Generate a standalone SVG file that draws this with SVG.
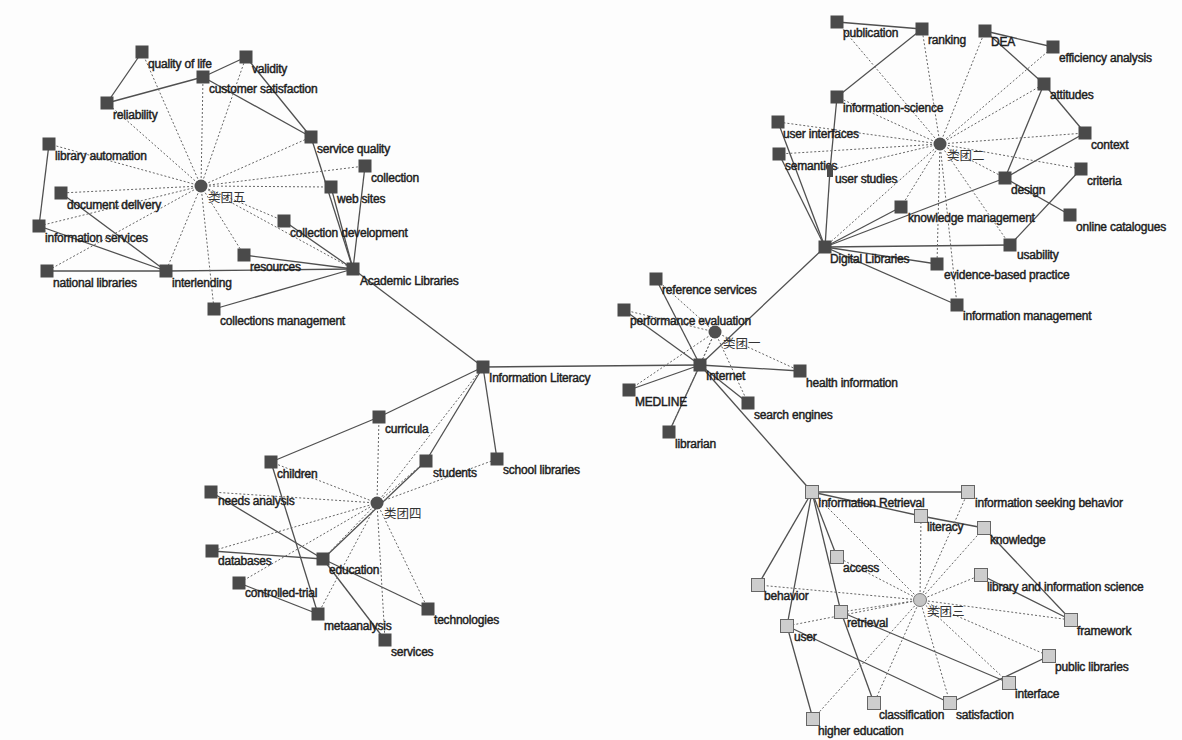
<svg xmlns="http://www.w3.org/2000/svg" width="1182" height="740" viewBox="0 0 1182 740">
<defs>
<style>
.s{stroke:#505050;stroke-width:1.3;fill:none}
.d{stroke:#666;stroke-width:1;stroke-dasharray:2 2;fill:none}
.n{fill:#4a4a4a}
.nl{fill:#cdcdcd;stroke:#666;stroke-width:1}
.ce{fill:#505050}
.cel{fill:#c4c4c4;stroke:#777;stroke-width:1}
.t{font-family:"Liberation Sans",Arial,sans-serif;font-size:12px;fill:#1e1e1e;stroke:#1e1e1e;stroke-width:0.45;letter-spacing:-0.2px}
.c{font-family:"Noto Sans CJK SC","Noto Sans CJK JP",sans-serif;font-size:12.5px;fill:#333}
</style>
</defs>
<rect width="1182" height="740" fill="#fdfdfd"/>
<g id="connectors">
<line class="s" x1="142" y1="52" x2="107" y2="103"/>
<line class="s" x1="107" y1="103" x2="203" y2="77"/>
<line class="s" x1="203" y1="77" x2="246" y2="57"/>
<line class="s" x1="203" y1="77" x2="311" y2="137"/>
<line class="s" x1="246" y1="57" x2="311" y2="137"/>
<line class="s" x1="311" y1="137" x2="353" y2="269"/>
<line class="s" x1="331" y1="187" x2="353" y2="269"/>
<line class="s" x1="365" y1="166" x2="353" y2="269"/>
<line class="s" x1="284" y1="221" x2="353" y2="269"/>
<line class="s" x1="49" y1="144" x2="39" y2="226"/>
<line class="s" x1="39" y1="226" x2="166" y2="271"/>
<line class="s" x1="61" y1="193" x2="166" y2="271"/>
<line class="s" x1="47" y1="271" x2="166" y2="271"/>
<line class="s" x1="166" y1="271" x2="353" y2="269"/>
<line class="s" x1="244" y1="255" x2="353" y2="269"/>
<line class="s" x1="214" y1="309" x2="353" y2="269"/>
<line class="s" x1="353" y1="269" x2="483" y2="367"/>
<line class="d" x1="201" y1="186" x2="142" y2="52"/>
<line class="d" x1="201" y1="186" x2="246" y2="57"/>
<line class="d" x1="201" y1="186" x2="203" y2="77"/>
<line class="d" x1="201" y1="186" x2="107" y2="103"/>
<line class="d" x1="201" y1="186" x2="49" y2="144"/>
<line class="d" x1="201" y1="186" x2="61" y2="193"/>
<line class="d" x1="201" y1="186" x2="39" y2="226"/>
<line class="d" x1="201" y1="186" x2="311" y2="137"/>
<line class="d" x1="201" y1="186" x2="365" y2="166"/>
<line class="d" x1="201" y1="186" x2="331" y2="187"/>
<line class="d" x1="201" y1="186" x2="284" y2="221"/>
<line class="d" x1="201" y1="186" x2="47" y2="271"/>
<line class="d" x1="201" y1="186" x2="166" y2="271"/>
<line class="d" x1="201" y1="186" x2="244" y2="255"/>
<line class="d" x1="201" y1="186" x2="214" y2="309"/>
<line class="d" x1="201" y1="186" x2="353" y2="269"/>
<line class="s" x1="837" y1="22" x2="922" y2="29"/>
<line class="s" x1="837" y1="97" x2="922" y2="29"/>
<line class="s" x1="985" y1="31" x2="1053" y2="47"/>
<line class="s" x1="985" y1="31" x2="1044" y2="84"/>
<line class="s" x1="1044" y1="84" x2="1085" y2="133"/>
<line class="s" x1="1044" y1="84" x2="1005" y2="178"/>
<line class="s" x1="1085" y1="133" x2="1005" y2="178"/>
<line class="s" x1="1005" y1="178" x2="825" y2="247"/>
<line class="s" x1="1005" y1="178" x2="1070" y2="215"/>
<line class="s" x1="1081" y1="169" x2="1010" y2="245"/>
<line class="s" x1="901" y1="207" x2="825" y2="247"/>
<line class="s" x1="1010" y1="245" x2="825" y2="247"/>
<line class="s" x1="937" y1="264" x2="825" y2="247"/>
<line class="s" x1="957" y1="305" x2="825" y2="247"/>
<line class="s" x1="778" y1="122" x2="825" y2="247"/>
<line class="s" x1="779" y1="154" x2="825" y2="247"/>
<line class="s" x1="830" y1="170" x2="825" y2="247"/>
<line class="s" x1="837" y1="97" x2="830" y2="170"/>
<line class="s" x1="825" y1="247" x2="700" y2="365"/>
<line class="d" x1="940" y1="144" x2="837" y2="22"/>
<line class="d" x1="940" y1="144" x2="922" y2="29"/>
<line class="d" x1="940" y1="144" x2="985" y2="31"/>
<line class="d" x1="940" y1="144" x2="1053" y2="47"/>
<line class="d" x1="940" y1="144" x2="1044" y2="84"/>
<line class="d" x1="940" y1="144" x2="1085" y2="133"/>
<line class="d" x1="940" y1="144" x2="1081" y2="169"/>
<line class="d" x1="940" y1="144" x2="1005" y2="178"/>
<line class="d" x1="940" y1="144" x2="901" y2="207"/>
<line class="d" x1="940" y1="144" x2="1010" y2="245"/>
<line class="d" x1="940" y1="144" x2="937" y2="264"/>
<line class="d" x1="940" y1="144" x2="957" y2="305"/>
<line class="d" x1="940" y1="144" x2="837" y2="97"/>
<line class="d" x1="940" y1="144" x2="778" y2="122"/>
<line class="d" x1="940" y1="144" x2="779" y2="154"/>
<line class="d" x1="940" y1="144" x2="830" y2="170"/>
<line class="d" x1="940" y1="144" x2="825" y2="247"/>
<line class="s" x1="700" y1="365" x2="483" y2="367"/>
<line class="s" x1="700" y1="365" x2="656" y2="279"/>
<line class="s" x1="700" y1="365" x2="624" y2="310"/>
<line class="s" x1="700" y1="365" x2="629" y2="390"/>
<line class="s" x1="700" y1="365" x2="669" y2="432"/>
<line class="s" x1="700" y1="365" x2="748" y2="403"/>
<line class="s" x1="700" y1="365" x2="800" y2="371"/>
<line class="s" x1="700" y1="365" x2="812" y2="492"/>
<line class="d" x1="715" y1="332" x2="656" y2="279"/>
<line class="d" x1="715" y1="332" x2="624" y2="310"/>
<line class="d" x1="715" y1="332" x2="700" y2="365"/>
<line class="d" x1="715" y1="332" x2="800" y2="371"/>
<line class="d" x1="715" y1="332" x2="748" y2="403"/>
<line class="d" x1="715" y1="332" x2="629" y2="390"/>
<line class="d" x1="715" y1="332" x2="669" y2="432"/>
<line class="s" x1="483" y1="367" x2="379" y2="417"/>
<line class="s" x1="379" y1="417" x2="271" y2="462"/>
<line class="s" x1="483" y1="367" x2="426" y2="461"/>
<line class="s" x1="483" y1="367" x2="497" y2="459"/>
<line class="s" x1="426" y1="461" x2="323" y2="559"/>
<line class="s" x1="211" y1="492" x2="323" y2="559"/>
<line class="s" x1="212" y1="551" x2="323" y2="559"/>
<line class="s" x1="271" y1="462" x2="318" y2="614"/>
<line class="s" x1="239" y1="583" x2="318" y2="614"/>
<line class="s" x1="323" y1="559" x2="428" y2="609"/>
<line class="s" x1="323" y1="559" x2="385" y2="640"/>
<line class="d" x1="377" y1="503" x2="379" y2="417"/>
<line class="d" x1="377" y1="503" x2="426" y2="461"/>
<line class="d" x1="377" y1="503" x2="497" y2="459"/>
<line class="d" x1="377" y1="503" x2="271" y2="462"/>
<line class="d" x1="377" y1="503" x2="211" y2="492"/>
<line class="d" x1="377" y1="503" x2="212" y2="551"/>
<line class="d" x1="377" y1="503" x2="239" y2="583"/>
<line class="d" x1="377" y1="503" x2="323" y2="559"/>
<line class="d" x1="377" y1="503" x2="318" y2="614"/>
<line class="d" x1="377" y1="503" x2="385" y2="640"/>
<line class="d" x1="377" y1="503" x2="428" y2="609"/>
<line class="d" x1="377" y1="503" x2="483" y2="367"/>
<line class="s" x1="812" y1="492" x2="968" y2="492"/>
<line class="s" x1="812" y1="492" x2="921" y2="516"/>
<line class="s" x1="921" y1="516" x2="984" y2="528"/>
<line class="s" x1="984" y1="528" x2="1071" y2="620"/>
<line class="s" x1="981" y1="575" x2="1071" y2="620"/>
<line class="s" x1="812" y1="492" x2="758" y2="585"/>
<line class="s" x1="812" y1="492" x2="787" y2="626"/>
<line class="s" x1="812" y1="492" x2="837" y2="557"/>
<line class="s" x1="812" y1="492" x2="841" y2="612"/>
<line class="s" x1="841" y1="612" x2="874" y2="703"/>
<line class="s" x1="787" y1="626" x2="813" y2="719"/>
<line class="s" x1="787" y1="626" x2="950" y2="703"/>
<line class="s" x1="841" y1="612" x2="1009" y2="683"/>
<line class="s" x1="950" y1="703" x2="1049" y2="656"/>
<line class="d" x1="920" y1="600" x2="812" y2="492"/>
<line class="d" x1="920" y1="600" x2="968" y2="492"/>
<line class="d" x1="920" y1="600" x2="921" y2="516"/>
<line class="d" x1="920" y1="600" x2="984" y2="528"/>
<line class="d" x1="920" y1="600" x2="981" y2="575"/>
<line class="d" x1="920" y1="600" x2="1071" y2="620"/>
<line class="d" x1="920" y1="600" x2="1049" y2="656"/>
<line class="d" x1="920" y1="600" x2="1009" y2="683"/>
<line class="d" x1="920" y1="600" x2="950" y2="703"/>
<line class="d" x1="920" y1="600" x2="874" y2="703"/>
<line class="d" x1="920" y1="600" x2="813" y2="719"/>
<line class="d" x1="920" y1="600" x2="837" y2="557"/>
<line class="d" x1="920" y1="600" x2="758" y2="585"/>
<line class="d" x1="920" y1="600" x2="841" y2="612"/>
<line class="d" x1="920" y1="600" x2="787" y2="626"/>
</g>
<g id="cluster5"><circle class="ce" cx="201" cy="186" r="6.5"/><text class="c" x="208" y="202">类团五</text></g>
<g id="quality-of-life"><rect class="n" x="135.5" y="45.5" width="13" height="13"/><text class="t" x="148" y="68">quality of life</text></g>
<g id="validity"><rect class="n" x="239.5" y="50.5" width="13" height="13"/><text class="t" x="252" y="73">validity</text></g>
<g id="customer-satisfaction"><rect class="n" x="196.5" y="70.5" width="13" height="13"/><text class="t" x="209" y="93">customer satisfaction</text></g>
<g id="reliability"><rect class="n" x="100.5" y="96.5" width="13" height="13"/><text class="t" x="113" y="119">reliability</text></g>
<g id="library-automation"><rect class="n" x="42.5" y="137.5" width="13" height="13"/><text class="t" x="55" y="160">library automation</text></g>
<g id="document-delivery"><rect class="n" x="54.5" y="186.5" width="13" height="13"/><text class="t" x="67" y="209">document delivery</text></g>
<g id="information-services"><rect class="n" x="32.5" y="219.5" width="13" height="13"/><text class="t" x="45" y="242">information services</text></g>
<g id="service-quality"><rect class="n" x="304.5" y="130.5" width="13" height="13"/><text class="t" x="317" y="153">service quality</text></g>
<g id="collection"><rect class="n" x="358.5" y="159.5" width="13" height="13"/><text class="t" x="371" y="182">collection</text></g>
<g id="web-sites"><rect class="n" x="324.5" y="180.5" width="13" height="13"/><text class="t" x="337" y="203">web sites</text></g>
<g id="collection-development"><rect class="n" x="277.5" y="214.5" width="13" height="13"/><text class="t" x="290" y="237">collection development</text></g>
<g id="national-libraries"><rect class="n" x="40.5" y="264.5" width="13" height="13"/><text class="t" x="53" y="287">national libraries</text></g>
<g id="interlending"><rect class="n" x="159.5" y="264.5" width="13" height="13"/><text class="t" x="172" y="287">interlending</text></g>
<g id="resources"><rect class="n" x="237.5" y="248.5" width="13" height="13"/><text class="t" x="250" y="271">resources</text></g>
<g id="collections-management"><rect class="n" x="207.5" y="302.5" width="13" height="13"/><text class="t" x="220" y="325">collections management</text></g>
<g id="academic-libraries"><rect class="n" x="346.5" y="262.5" width="13" height="13"/><text class="t" x="360" y="285">Academic Libraries</text></g>
<g id="cluster2"><circle class="ce" cx="940" cy="144" r="6.5"/><text class="c" x="947" y="160">类团二</text></g>
<g id="publication"><rect class="n" x="830.5" y="15.5" width="13" height="13"/><text class="t" x="843" y="37">publication</text></g>
<g id="ranking"><rect class="n" x="915.5" y="22.5" width="13" height="13"/><text class="t" x="928" y="44">ranking</text></g>
<g id="dea"><rect class="n" x="978.5" y="24.5" width="13" height="13"/><text class="t" x="991" y="46">DEA</text></g>
<g id="efficiency-analysis"><rect class="n" x="1046.5" y="40.5" width="13" height="13"/><text class="t" x="1059" y="62">efficiency analysis</text></g>
<g id="attitudes"><rect class="n" x="1037.5" y="77.5" width="13" height="13"/><text class="t" x="1050" y="99">attitudes</text></g>
<g id="context"><rect class="n" x="1078.5" y="126.5" width="13" height="13"/><text class="t" x="1091" y="149">context</text></g>
<g id="criteria"><rect class="n" x="1074.5" y="162.5" width="13" height="13"/><text class="t" x="1087" y="185">criteria</text></g>
<g id="design"><rect class="n" x="998.5" y="171.5" width="13" height="13"/><text class="t" x="1011" y="194">design</text></g>
<g id="online-catalogues"><rect class="n" x="1063.5" y="208.5" width="13" height="13"/><text class="t" x="1076" y="231">online catalogues</text></g>
<g id="knowledge-management"><rect class="n" x="894.5" y="200.5" width="13" height="13"/><text class="t" x="908" y="222">knowledge management</text></g>
<g id="usability"><rect class="n" x="1003.5" y="238.5" width="13" height="13"/><text class="t" x="1017" y="259">usability</text></g>
<g id="evidence-based-practice"><rect class="n" x="930.5" y="257.5" width="13" height="13"/><text class="t" x="944" y="279">evidence-based practice</text></g>
<g id="information-management"><rect class="n" x="950.5" y="298.5" width="13" height="13"/><text class="t" x="963" y="320">information management</text></g>
<g id="information-science"><rect class="n" x="830.5" y="90.5" width="13" height="13"/><text class="t" x="843" y="112">information-science</text></g>
<g id="user-interfaces"><rect class="n" x="771.5" y="115.5" width="13" height="13"/><text class="t" x="783" y="138">user interfaces</text></g>
<g id="semantics"><rect class="n" x="772.5" y="147.5" width="13" height="13"/><text class="t" x="785" y="170">semantics</text></g>
<g id="user-studies"><rect class="n" x="827" y="165" width="6" height="12"/><text class="t" x="835" y="183">user studies</text></g>
<g id="digital-libraries"><rect class="n" x="818.5" y="240.5" width="13" height="13"/><text class="t" x="830" y="263">Digital Libraries</text></g>
<g id="reference-services"><rect class="n" x="649.5" y="272.5" width="13" height="13"/><text class="t" x="662" y="294">reference services</text></g>
<g id="performance-evaluation"><rect class="n" x="617.5" y="303.5" width="13" height="13"/><text class="t" x="630" y="325">performance evaluation</text></g>
<g id="cluster1"><circle class="ce" cx="715" cy="332" r="6.5"/><text class="c" x="723" y="348">类团一</text></g>
<g id="internet"><rect class="n" x="693.5" y="358.5" width="13" height="13"/><text class="t" x="706" y="380">Internet</text></g>
<g id="health-information"><rect class="n" x="793.5" y="364.5" width="13" height="13"/><text class="t" x="806" y="387">health information</text></g>
<g id="search-engines"><rect class="n" x="741.5" y="396.5" width="13" height="13"/><text class="t" x="754" y="419">search engines</text></g>
<g id="medline"><rect class="n" x="622.5" y="383.5" width="13" height="13"/><text class="t" x="635" y="406">MEDLINE</text></g>
<g id="librarian"><rect class="n" x="662.5" y="425.5" width="13" height="13"/><text class="t" x="675" y="448">librarian</text></g>
<g id="information-literacy"><rect class="n" x="476.5" y="360.5" width="13" height="13"/><text class="t" x="489" y="382">Information Literacy</text></g>
<g id="cluster4"><circle class="ce" cx="377" cy="503" r="6.5"/><text class="c" x="384" y="518">类团四</text></g>
<g id="curricula"><rect class="n" x="372.5" y="410.5" width="13" height="13"/><text class="t" x="385" y="433">curricula</text></g>
<g id="students"><rect class="n" x="419.5" y="454.5" width="13" height="13"/><text class="t" x="433" y="477">students</text></g>
<g id="school-libraries"><rect class="n" x="490.5" y="452.5" width="13" height="13"/><text class="t" x="503" y="474">school libraries</text></g>
<g id="children"><rect class="n" x="264.5" y="455.5" width="13" height="13"/><text class="t" x="277" y="478">children</text></g>
<g id="needs-analysis"><rect class="n" x="204.5" y="485.5" width="13" height="13"/><text class="t" x="218" y="505">needs analysis</text></g>
<g id="databases"><rect class="n" x="205.5" y="544.5" width="13" height="13"/><text class="t" x="218" y="565">databases</text></g>
<g id="controlled-trial"><rect class="n" x="232.5" y="576.5" width="13" height="13"/><text class="t" x="245" y="597">controlled-trial</text></g>
<g id="education"><rect class="n" x="316.5" y="552.5" width="13" height="13"/><text class="t" x="329" y="574">education</text></g>
<g id="metaanalysis"><rect class="n" x="311.5" y="607.5" width="13" height="13"/><text class="t" x="324" y="630">metaanalysis</text></g>
<g id="services"><rect class="n" x="378.5" y="633.5" width="13" height="13"/><text class="t" x="391" y="656">services</text></g>
<g id="technologies"><rect class="n" x="421.5" y="602.5" width="13" height="13"/><text class="t" x="434" y="624">technologies</text></g>
<g id="cluster3"><circle class="cel" cx="920" cy="600" r="6.5"/><text class="c" x="927" y="616">类团三</text></g>
<g id="information-retrieval"><rect class="nl" x="805.5" y="485.5" width="13" height="13"/><text class="t" x="818" y="507">Information Retrieval</text></g>
<g id="information-seeking-behavior"><rect class="nl" x="961.5" y="485.5" width="13" height="13"/><text class="t" x="975" y="507">information seeking behavior</text></g>
<g id="literacy"><rect class="nl" x="914.5" y="509.5" width="13" height="13"/><text class="t" x="927" y="531">literacy</text></g>
<g id="knowledge"><rect class="nl" x="977.5" y="521.5" width="13" height="13"/><text class="t" x="990" y="544">knowledge</text></g>
<g id="library-and-information-science"><rect class="nl" x="974.5" y="568.5" width="13" height="13"/><text class="t" x="987" y="591">library and information science</text></g>
<g id="framework"><rect class="nl" x="1064.5" y="613.5" width="13" height="13"/><text class="t" x="1077" y="635">framework</text></g>
<g id="public-libraries"><rect class="nl" x="1042.5" y="649.5" width="13" height="13"/><text class="t" x="1055" y="671">public libraries</text></g>
<g id="interface"><rect class="nl" x="1002.5" y="676.5" width="13" height="13"/><text class="t" x="1015" y="698">interface</text></g>
<g id="satisfaction"><rect class="nl" x="943.5" y="696.5" width="13" height="13"/><text class="t" x="956" y="719">satisfaction</text></g>
<g id="classification"><rect class="nl" x="867.5" y="696.5" width="13" height="13"/><text class="t" x="879" y="719">classification</text></g>
<g id="higher-education"><rect class="nl" x="806.5" y="712.5" width="13" height="13"/><text class="t" x="818" y="735">higher education</text></g>
<g id="access"><rect class="nl" x="830.5" y="550.5" width="13" height="13"/><text class="t" x="843" y="572">access</text></g>
<g id="behavior"><rect class="nl" x="751.5" y="578.5" width="13" height="13"/><text class="t" x="764" y="600">behavior</text></g>
<g id="retrieval"><rect class="nl" x="834.5" y="605.5" width="13" height="13"/><text class="t" x="847" y="627">retrieval</text></g>
<g id="user"><rect class="nl" x="780.5" y="619.5" width="13" height="13"/><text class="t" x="794" y="641">user</text></g>
</svg>
